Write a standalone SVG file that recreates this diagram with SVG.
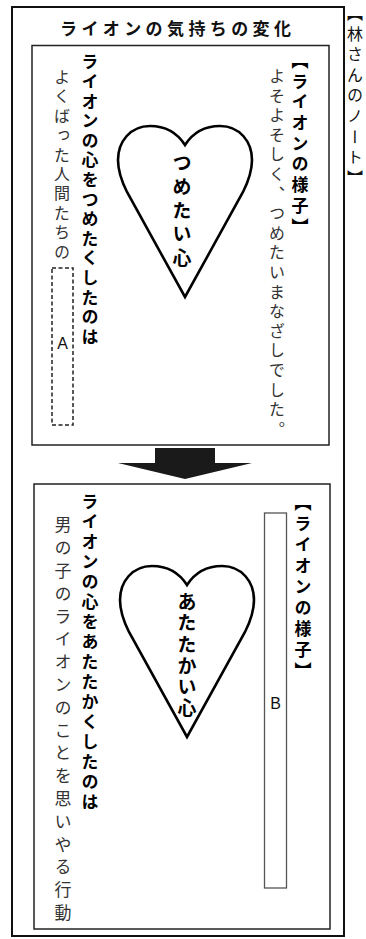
<svg xmlns="http://www.w3.org/2000/svg" width="366" height="939" viewBox="0 0 366 939">
<style>
.frame{fill:none;stroke:#111;stroke-width:2}
.box{fill:none;stroke:#222;stroke-width:1.5}
.heart{fill:#fff;stroke:#000;stroke-width:2.6;stroke-linejoin:miter}
.v{writing-mode:vertical-rl;font-family:'Noto Sans CJK JP','Noto Sans CJK SC',sans-serif}
.b{font-weight:bold;fill:#000}
.r{font-weight:normal;fill:#333}
.lat{font-family:'Liberation Sans',Arial,sans-serif;font-size:16px;fill:#111;text-anchor:middle}
</style>
<defs>
<path id="heartShape" d="M185,145 C176,131 164,126 150,126 C130,126 118,142 118,160 C118,172 122,182 127,192 L185,297 L243,192 C248,182 252,172 252,160 C252,142 240,126 220,126 C206,126 194,131 185,145 Z"/>
</defs>
<rect width="366" height="939" fill="#fff"/>
<g id="outer-frame">
<rect class="frame" x="12" y="7" width="332" height="929"/>
</g>
<g id="sidebar-note">
<text class="v r" x="355" y="5" font-size="16" letter-spacing="4.6" style="fill:#111">【林さんのノート】</text>
</g>
<g id="title">
<text x="60" y="35" font-family="'Noto Sans CJK JP','Noto Sans CJK SC',sans-serif" font-size="17" font-weight="bold" letter-spacing="4.4" fill="#111">ライオンの気持ちの変化</text>
</g>
<g id="box-before">
<rect class="box" x="32" y="45.5" width="297" height="399.5"/>
<text class="v b" x="300" y="52" font-size="17" letter-spacing="3.7">【ライオンの様子】</text>
<text class="v r" x="277" y="68" font-size="16" letter-spacing="3.6">よそよそしく、つめたいまなざしでした。</text>
<text class="v b" x="90" y="53.5" font-size="17" letter-spacing="2.6">ライオンの心をつめたくしたのは</text>
<text class="v r" x="62" y="69" font-size="16" letter-spacing="3.4">よくばった人間たちの</text>
<g id="heart-cold">
<use href="#heartShape" class="heart"/>
<text class="v" x="182" y="153.5" font-size="19" font-weight="bold" letter-spacing="4.7" fill="#000">つめたい心</text>
</g>
<g id="blank-A">
<rect x="52" y="268" width="21" height="157" fill="none" stroke="#222" stroke-width="1.5" stroke-dasharray="4 2.5"/>
<text class="lat" x="62.5" y="349">A</text>
</g>
</g>
<g id="connectors">
<path d="M155,448 H215 V463 H252 L185,479 L118,463 H155 Z" fill="#1a1a1a"/>
</g>
<g id="box-after">
<rect class="box" x="34" y="484" width="296" height="445"/>
<text class="v b" x="303" y="494" font-size="17" letter-spacing="4">【ライオンの様子】</text>
<text class="v b" x="90" y="493.5" font-size="17" letter-spacing="3">ライオンの心をあたたかくしたのは</text>
<text class="v r" x="63" y="516.5" font-size="17" letter-spacing="5.8">男の子のライオンのことを思いやる行動</text>
<g id="heart-warm">
<use href="#heartShape" class="heart" transform="translate(2,440)"/>
<text class="v" x="187" y="592.5" font-size="19" font-weight="bold" letter-spacing="2.2" fill="#000">あたたかい心</text>
</g>
<g id="blank-B">
<rect x="264.5" y="513" width="22" height="375" fill="none" stroke="#555" stroke-width="1.3"/>
<text class="lat" x="275.5" y="709">B</text>
</g>
</g>
</svg>
